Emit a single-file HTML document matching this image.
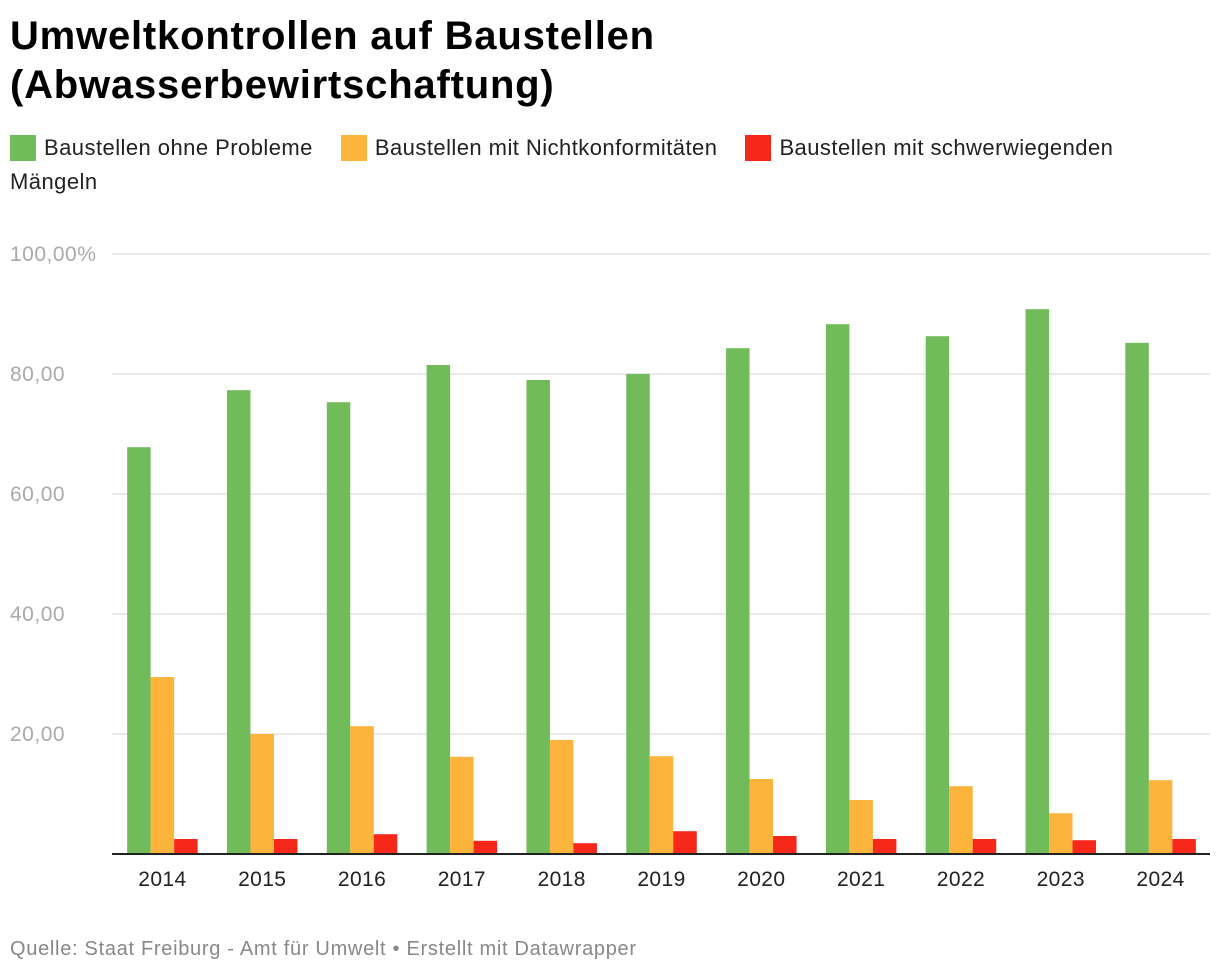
<!DOCTYPE html>
<html><head><meta charset="utf-8"><style>
body{margin:0;width:1220px;height:976px;background:#fff;font-family:"Liberation Sans",sans-serif;position:relative;overflow:hidden}
h1{position:absolute;left:10px;top:12px;margin:0;font-size:40px;line-height:49px;font-weight:bold;color:#000;letter-spacing:0.8px}
.legend{position:absolute;left:10px;top:131px;width:1200px;font-size:22px;line-height:34px;color:#222;letter-spacing:0.45px}
.li{display:inline-block;margin-right:28px}
.sw{display:inline-block;width:26px;height:26px;vertical-align:-6px;margin-right:8px}
.foot{position:absolute;left:10px;top:938px;font-size:20px;color:#888;letter-spacing:0.7px}
</style></head><body>
<h1>Umweltkontrollen auf Baustellen<br>(Abwasserbewirtschaftung)</h1>
<div class="legend">
<span class="li"><span class="sw" style="background:#72bb5a"></span>Baustellen ohne Probleme</span><span class="li"><span class="sw" style="background:#fdb43d"></span>Baustellen mit Nichtkonformitäten</span><span><span class="sw" style="background:#f5281a"></span>Baustellen mit schwerwiegenden<br>Mängeln</span>
</div>
<svg id="chart" width="1220" height="976" style="position:absolute;left:0;top:0"></svg>
<div class="foot">Quelle: Staat Freiburg - Amt für Umwelt • Erstellt mit Datawrapper</div>
<script>
const years=["2014","2015","2016","2017","2018","2019","2020","2021","2022","2023","2024"];
const ohneProbleme=[67.8,77.3,75.3,81.5,79,80,84.3,88.3,86.3,90.8,85.2];
const nichtkonform=[29.5,20,21.3,16.2,19,16.3,12.5,9,11.3,6.8,12.3];
const schwerwiegend=[2.5,2.5,3.3,2.2,1.8,3.8,3,2.5,2.5,2.3,2.5];
const ticks=[0,20,40,60,80,100];
const tickLabels=["","20,00","40,00","60,00","80,00","100,00%"];
const NS="http://www.w3.org/2000/svg";
const svg=document.getElementById("chart");
const x0=112,x1=1210,y0=854,yTop=254;
const y=v=>y0-(v/100)*(y0-yTop);
const band=(x1-x0)/years.length;
const xc=i=>x0+band*(i+0.5)+0.5;
function mk(t,a){const e=document.createElementNS(NS,t);for(const k in a)e.setAttribute(k,a[k]);svg.appendChild(e);return e;}
ticks.forEach((t,i)=>{
 if(t>0){const l=mk("line",{x1:x0,x2:x1,y1:y(t),y2:y(t),stroke:"#e2e2e2","stroke-width":1.5});
 
 }
 const tx=mk("text",{x:10,y:y(t)+7,fill:"#aaa","font-size":21,"letter-spacing":"0.5","font-family":"Liberation Sans"});
 tx.textContent=tickLabels[i];
 
 
});
const series=[[ohneProbleme,"#72bb5a","bar-ohne-probleme"],[nichtkonform,"#fdb43d","bar-nichtkonform"],[schwerwiegend,"#f5281a","bar-schwerwiegend"]];
const bw=23.5;
years.forEach((yr,i)=>{
 series.forEach((s,j)=>{
  const v=s[0][i];
  const r=mk("rect",{x:xc(i)-1.5*bw+j*bw,y:y(v),width:bw,height:y0-y(v),fill:s[1]});
  
  
 });
 const t=mk("text",{x:xc(i),y:886,"text-anchor":"middle",fill:"#222","font-size":21,"letter-spacing":"0.4","font-family":"Liberation Sans"});
 t.textContent=yr;
 
 
});
const ax=mk("line",{x1:x0,x2:x1,y1:y0,y2:y0,stroke:"#222","stroke-width":2});


</script>
</body></html>
